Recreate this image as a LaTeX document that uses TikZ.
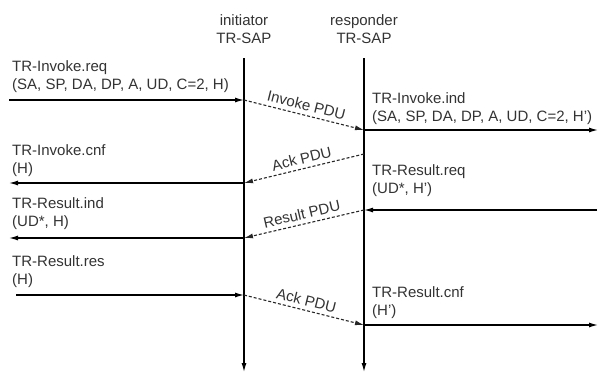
\documentclass[tikz,border=0pt]{standalone}
\usepackage{fontspec}
\setmainfont{Liberation Sans}
\usetikzlibrary{arrows.meta, positioning}

\begin{document}
\begin{tikzpicture}[x=1pt, y=-1pt, node distance=120pt, on grid,
    every node/.style={font=\fontsize{15}{18}\selectfont, text=black!80, inner sep=0pt},
    sap/.style={align=center},
    prim/.style={anchor=south west, align=left},
    tip/.style={-{Latex[length=9pt, width=5pt]}},
    life/.style={tip, line width=1.2pt},
    local/.style={tip, line width=1.2pt},
    pdu/.style={tip, densely dashed, line width=1.1pt, black!85}]
    \fill[white] (0,0) rectangle (600,373);
    \useasboundingbox (0,0) rectangle (600,373);

    \node[sap] (ini) at (244,29) {initiator\\TR-SAP};
    \node[sap] (resp) [right=of ini] {responder\\TR-SAP};

    % lifelines
    \coordinate (ini top) at (244,58);
    \coordinate (ini end) at (244,372);
    \coordinate (resp top) at (364,58);
    \coordinate (resp end) at (364,372);
    \draw[life] (ini top) -- (ini end);
    \draw[life] (resp top) -- (resp end);

    % points on the lifelines and free ends
    \coordinate (i1) at (244,100); \coordinate (u1) at (9,100);
    \coordinate (r1) at (364,130); \coordinate (p1) at (598,130);
    \coordinate (r2) at (364,154); \coordinate (i2) at (244,183); \coordinate (u2) at (9,183);
    \coordinate (r3) at (364,210); \coordinate (p3) at (597,210);
    \coordinate (i3) at (244,238); \coordinate (u3) at (9,238);
    \coordinate (i4) at (244,295); \coordinate (u4) at (16,295);
    \coordinate (r4) at (364,325); \coordinate (p4) at (598,325);

    % invoke
    \draw[local] (u1) -- (i1);
    \node[prim] (invreq) at ([shift={(3,-7)}]u1) {TR-Invoke.req\\(SA, SP, DA, DP, A, UD, C=2, H)};
    \draw[pdu] (i1) -- node[above=4pt, sloped] (invpdu) {Invoke PDU} (r1);
    \draw[local] (r1) -- (p1);
    \node[prim] (invind) at ([shift={(8,-5)}]r1) {TR-Invoke.ind\\(SA, SP, DA, DP, A, UD, C=2, H')};

    % ack of invoke
    \draw[pdu] (r2) -- node[above=4pt, sloped] (ackpdu) {Ack PDU} (i2);
    \draw[local] (i2) -- (u2);
    \node[prim] (invcnf) at ([shift={(3,-6)}]u2) {TR-Invoke.cnf\\(H)};

    % result
    \draw[local] (p3) -- (r3);
    \node[prim] (resreq) at ([shift={(8,-13)}]r3) {TR-Result.req\\(UD*, H')};
    \draw[pdu] (r3) -- node[above=4pt, sloped] (respdu) {Result PDU} (i3);
    \draw[local] (i3) -- (u3);
    \node[prim] (resind) at ([shift={(3,-8)}]u3) {TR-Result.ind\\(UD*, H)};

    % ack of result
    \draw[local] (u4) -- (i4);
    \node[prim] (resres) at ([shift={(-4,-7)}]u4) {TR-Result.res\\(H)};
    \draw[pdu] (i4) -- node[above=4pt, sloped] (ackpdub) {Ack PDU} (r4);
    \draw[local] (r4) -- (p4);
    \node[prim] (rescnf) at ([shift={(8,-6)}]r4) {TR-Result.cnf\\(H')};
\end{tikzpicture}
\end{document}
